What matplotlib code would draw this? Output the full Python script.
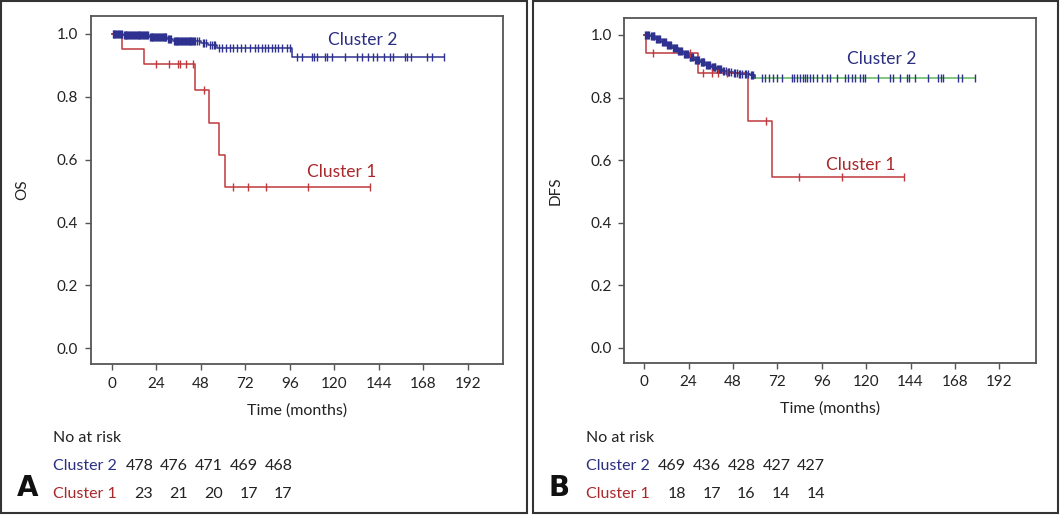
import numpy as np
import matplotlib
matplotlib.use("Agg")
import matplotlib.pyplot as plt
from matplotlib.patches import Rectangle

plt.rcParams['font.family'] = ['Lato', 'DejaVu Sans']

# ---------------- data ----------------
# Panel A: overall survival (OS)
os_c2_times = [0, 6, 20, 30, 33, 48, 52, 57, 97]
os_c2_surv = [1.0, 0.995, 0.99, 0.985, 0.977, 0.970, 0.965, 0.955, 0.928]
os_c2_end = 179
os_c2_censor = [0.5, 1, 1.5, 2, 2.5, 3, 3.5, 4, 4.5, 5, 5.5, 6.5, 7, 7.5, 8, 8.5, 9, 9.5,
                10, 10.5, 11, 11.5, 12, 12.5, 13, 13.5, 14, 14.5, 15, 15.5, 16, 16.5, 17,
                17.5, 18, 18.5, 19, 19.5, 20.5, 21, 21.5, 22, 22.5, 23, 23.5, 24, 24.5,
                25, 25.5, 26, 26.5, 27, 27.5, 28, 28.5, 29, 29.5, 30.5, 31, 31.5, 32,
                33.5, 34, 34.5, 35, 35.5, 36, 36.5, 37, 37.5, 38, 38.5, 39, 39.5, 40,
                40.5, 41, 41.5, 42, 42.5, 43, 43.5, 44, 44.5, 45, 46, 47, 49, 50, 51,
                53, 54, 55, 56, 58,
                59.3, 61.6, 63.8, 65.6, 67.7, 69.6, 71.9, 74.6, 77.3, 79.1, 80.9, 82.7,
                84.5, 86.3, 88.1, 89.9, 91.7, 94.4, 96.2,
                99.8, 102.5, 107.9, 109.1, 110.6, 115, 116.3, 118.7, 125.8, 132.1, 134.8,
                138.4, 141.1, 143.3, 146.9, 150.1, 151.9, 158.2, 159.5, 161.3, 169.9,
                172.6, 179]

os_c1_times = [0, 5.6, 17.4, 45, 52.5, 57.7, 61.3]
os_c1_surv = [1.0, 0.952, 0.903, 0.822, 0.718, 0.615, 0.513]
os_c1_end = 139.5
os_c1_censor = [23.7, 31, 36, 37, 40, 44, 49.6, 65.4, 73.5, 83.4, 106, 139.5]

# Panel B: disease-free survival (DFS)
dfs_c2_times = [0, 3, 6, 9, 12, 15, 18, 21, 24, 27, 30, 33, 36, 39, 42, 45, 48, 51, 54, 57, 60]
dfs_c2_surv = [1.0, 0.995, 0.986, 0.977, 0.967, 0.957, 0.948, 0.938, 0.929, 0.921, 0.913,
               0.905, 0.898, 0.891, 0.886, 0.882, 0.878, 0.876, 0.874, 0.873, 0.861]
dfs_c2_end = 179
dfs_c2_censor = [0.5, 1, 1.5, 2, 2.5, 3.5, 4, 4.5, 5, 5.5, 6.5, 7, 7.5, 8, 8.5, 9.5, 10,
                 10.5, 11, 11.5, 12.5, 13, 13.5, 14, 14.5, 15.5, 16, 16.5, 17, 17.5, 18.5,
                 19, 19.5, 20, 20.5, 21.5, 22, 22.5, 23, 23.5, 24.5, 25, 25.5, 26, 26.5,
                 27.5, 28, 28.5, 29, 29.5, 30.5, 31, 31.5, 32, 32.5, 33.5, 34, 34.5, 35,
                 35.5, 36.5, 37, 37.5, 38, 38.5, 39.5, 40, 40.5, 41, 41.5, 42.5, 43, 44,
                 45.5, 46, 47, 48.5, 49, 50, 51.5, 52, 53, 54.5, 55, 56, 57.5, 58, 59,
                 63.5, 65.3, 67.6, 69.4, 71.6, 74.3, 79.7, 81, 82.4, 84.2, 85.7, 86.9,
                 88.2, 89.6, 91.4, 93.2, 95.9, 98.6, 100.4, 104, 108.5, 110.3, 112.2, 114,
                 116.7, 118.1, 119.4, 126.6, 132.9, 134.7, 138.3, 141.9, 143.3, 146.4,
                 153.6, 159, 160.3, 161.7, 169.8, 171.7, 179]

dfs_c1_times = [0, 1.0, 29.0, 56.3, 68.9]
dfs_c1_surv = [1.0, 0.943, 0.878, 0.725, 0.547]
dfs_c1_end = 140.5
dfs_c1_censor = [4.5, 25, 31.6, 36.4, 40, 44.6, 65.8, 83.8, 106.8, 140.5]

# No-at-risk tables
risk_A_c2 = [478, 476, 471, 469, 468]
risk_A_c1 = [23, 21, 20, 17, 17]
risk_B_c2 = [469, 436, 428, 427, 427]
risk_B_c1 = [18, 17, 16, 14, 14]

xticks = [0, 24, 48, 72, 96, 120, 144, 168, 192]
yticks = [0.0, 0.2, 0.4, 0.6, 0.8, 1.0]

# ---------------- style ----------------
BLUE = '#2e3190'
BLUE_TXT = '#2b2f80'
RED = '#c0393d'
RED_TXT = '#a8282c'
GREEN = '#5cb85c'
SPINE = '#555555'
TXT = '#222222'

W, H = 1060, 515
fig = plt.figure(figsize=(W / 100, H / 100), dpi=100)


def fx(px):
    return px / W


def fy(py):
    return 1 - py / H


def step_lookup(times, surv, t):
    idx = np.searchsorted(np.asarray(times), np.asarray(t), side='right') - 1
    return np.asarray(surv)[np.clip(idx, 0, len(surv) - 1)]


def km(ax, times, surv, end, censor, line_color, mark_color, lw=1.1, ms=5.5, mew=1.0):
    xs = list(times) + [end]
    ys = list(surv) + [surv[-1]]
    ax.step(xs, ys, where='post', color=line_color, lw=lw, zorder=3)
    cy = step_lookup(times, surv, censor)
    ax.plot(censor, cy, ls='none', marker='|', ms=ms, mew=mew, color=mark_color, zorder=4)


def setup_axes(ax, xlim, ylim, ylabel):
    ax.set_xlim(*xlim)
    ax.set_ylim(*ylim)
    ax.set_xticks(xticks)
    ax.set_yticks(yticks)
    ax.set_yticklabels([f'{v:.1f}' for v in yticks])
    for s in ax.spines.values():
        s.set_color(SPINE)
        s.set_linewidth(1.3)
    ax.tick_params(axis='both', colors=SPINE, length=4, width=1.0, labelsize=11,
                   labelcolor=TXT, direction='out', pad=5)
    ax.set_xlabel('Time (months)', fontsize=11.5, color=TXT, labelpad=9)
    ax.set_ylabel(ylabel, fontsize=11, color=TXT, labelpad=20)


# panel frames
fig.add_artist(Rectangle((fx(1), fy(513)), fx(526), 512 / H, transform=fig.transFigure,
                         fill=False, ec='#333333', lw=1.5))
fig.add_artist(Rectangle((fx(533), fy(513)), fx(525), 512 / H, transform=fig.transFigure,
                         fill=False, ec='#333333', lw=1.5))

# ---- Panel A ----
axA = fig.add_axes([fx(90.7), fy(364), fx(503.3 - 90.7), (364 - 16) / H])
setup_axes(axA, (-11.3, 211.2), (-0.05, 1.057), 'OS')
km(axA, os_c2_times, os_c2_surv, os_c2_end, os_c2_censor, BLUE, BLUE)
km(axA, os_c1_times, os_c1_surv, os_c1_end, os_c1_censor, RED, RED)
axA.text(116.7, 0.982, 'Cluster 2', color=BLUE_TXT, fontsize=12.5, va='center', ha='left')
axA.text(105.5, 0.5615, 'Cluster 1', color=RED_TXT, fontsize=12.5, va='center', ha='left')

# ---- Panel B ----
axB = fig.add_axes([fx(624.3), fy(362.7), fx(1035.7 - 624.3), (362.7 - 18.3) / H])
setup_axes(axB, (-10.8, 211.7), (-0.047, 1.053), 'DFS')
km(axB, dfs_c2_times, dfs_c2_surv, dfs_c2_end, dfs_c2_censor, GREEN, BLUE)
# dense early part of the Cluster 2 line appears blue
axB.step(list(dfs_c2_times), list(dfs_c2_surv), where='post', color=BLUE, lw=1.1, zorder=3)
km(axB, dfs_c1_times, dfs_c1_surv, dfs_c1_end, dfs_c1_censor, RED, RED)
axB.text(109.5, 0.924, 'Cluster 2', color=BLUE_TXT, fontsize=12.5, va='center', ha='left')
axB.text(98.3, 0.586, 'Cluster 1', color=RED_TXT, fontsize=12.5, va='center', ha='left')


# ---- at-risk tables ----
def risk_table(x0, c2, c1, letter, letter_x):
    fig.text(fx(x0), fy(438.5), 'No at risk', fontsize=11.5, color=TXT, va='center', ha='left')
    fig.text(fx(x0), fy(466), 'Cluster 2', fontsize=11.5, color=BLUE_TXT, va='center', ha='left')
    fig.text(fx(x0), fy(493.5), 'Cluster 1', fontsize=11.5, color=RED_TXT, va='center', ha='left')
    for i, (a, b) in enumerate(zip(c2, c1)):
        xr = x0 + 100 + i * 34.8
        fig.text(fx(xr), fy(466), str(a), fontsize=11.5, color=TXT, va='center', ha='right')
        fig.text(fx(xr), fy(493.5), str(b), fontsize=11.5, color=TXT, va='center', ha='right')
    fig.text(fx(letter_x), fy(488), letter, fontsize=20, fontweight='bold', color='#111111',
             va='center', ha='center', family='DejaVu Sans')


risk_table(53.3, risk_A_c2, risk_A_c1, 'A', 27.5)
risk_table(586, risk_B_c2, risk_B_c1, 'B', 559.5)

fig.savefig('out.png', dpi=100)
